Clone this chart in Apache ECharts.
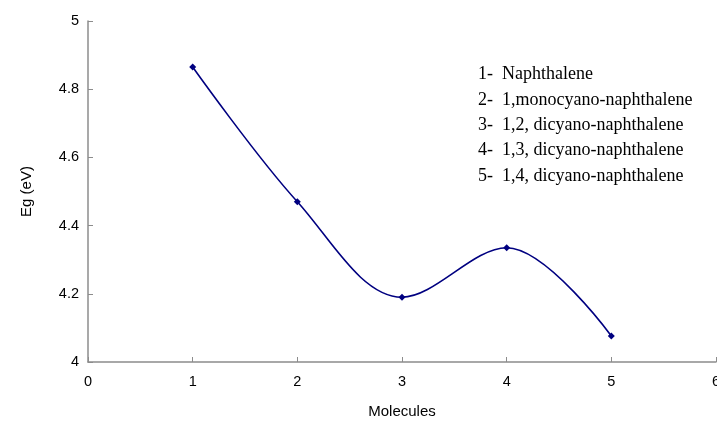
<!DOCTYPE html>
<html>
<head>
<meta charset="utf-8">
<script src="https://cdn.jsdelivr.net/npm/echarts@6/dist/echarts.min.js"></script>
<style>html,body{margin:0;padding:0;background:#fff}#c{width:717px;height:425px}</style>
</head>
<body>
<div id="c"></div>
<script>
const molecules = [1, 2, 3, 4, 5];
const egValues = [4.865, 4.47, 4.19, 4.335, 4.076];
const legendLines = [
  '1-  Naphthalene',
  '2-  1,monocyano-naphthalene',
  '3-  1,2, dicyano-naphthalene',
  '4-  1,3, dicyano-naphthalene',
  '5-  1,4, dicyano-naphthalene'
];
const xTicks = { min: 0, max: 6, interval: 1 };
const yTicks = { min: 4, max: 5, interval: 0.2 };

const chart = echarts.init(document.getElementById('c'));
const axisColor = '#8c8c8c';
chart.setOption({
  animation: false,
  grid: { left: 88, right: 1, top: 21, bottom: 63, outerBoundsMode: 'none', containLabel: false },
  xAxis: {
    type: 'value', min: xTicks.min, max: xTicks.max, interval: xTicks.interval,
    name: 'Molecules', nameLocation: 'middle', nameGap: 42,
    nameTextStyle: { fontFamily: 'Liberation Sans', fontSize: 15, color: '#000' },
    axisLine: { lineStyle: { color: axisColor, width: 1.5 } },
    axisTick: { inside: true, length: 5, lineStyle: { color: axisColor } },
    axisLabel: { fontFamily: 'Liberation Sans', fontSize: 14.5, color: '#000', margin: 12, hideOverlap: false },
    splitLine: { show: false }
  },
  yAxis: {
    type: 'value', min: yTicks.min, max: yTicks.max, interval: yTicks.interval,
    name: 'Eg (eV)', nameLocation: 'middle', nameGap: 54, nameRotate: 90,
    nameTextStyle: { fontFamily: 'Liberation Sans', fontSize: 15, color: '#000' },
    axisLine: { show: true, lineStyle: { color: axisColor, width: 1.5 } },
    axisTick: { show: true, inside: true, length: 5, lineStyle: { color: axisColor } },
    axisLabel: { fontFamily: 'Liberation Sans', fontSize: 14.5, color: '#000', margin: 9,
      formatter: v => String(Math.round(v * 10) / 10) },
    splitLine: { show: false }
  },
  graphic: [{
    type: 'text', left: 478, top: 62,
    style: {
      text: legendLines.join('\n'),
      fontFamily: 'Liberation Serif', fontSize: 18, lineHeight: 25.3, fill: '#000'
    }
  }],
  series: [{
    type: 'line',
    data: molecules.map((m, i) => [m, egValues[i]]),
    smooth: 0.35,
    symbol: 'diamond', symbolSize: 7,
    lineStyle: { color: '#000080', width: 1.6 },
    itemStyle: { color: '#000080' }
  }]
});
</script>
</body>
</html>
